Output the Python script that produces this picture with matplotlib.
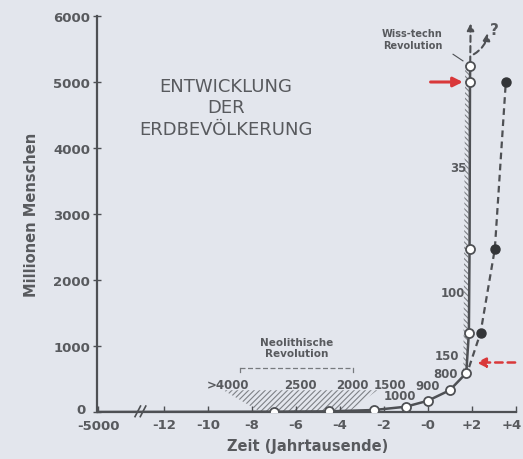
import matplotlib
matplotlib.use("Agg")
import matplotlib.pyplot as plt
import matplotlib.transforms as mtransforms
from matplotlib.patches import Polygon

# ---- data ----
x_ticks = [-15, -12, -10, -8, -6, -4, -2, 0, 2, 4]
x_ticklabels = ["-5000", "-12", "-10", "-8", "-6", "-4", "-2", "-0", "+2", "+4"]
y_ticks = [0, 1000, 2000, 3000, 4000, 5000, 6000]

# observed population (open circles, solid line)
obs_x = [-15, -7.0, -4.5, -2.45, -1.0, 0.0, 1.0, 1.75, 1.87, 1.9, 1.92, 1.93]
obs_y = [0, 5, 10, 30, 80, 170, 330, 590, 1200, 2470, 5000, 5250]

# projected (filled circles, dashed line)
proj_x = [1.88, 2.4, 3.05, 3.55]
proj_y = [680, 1200, 2470, 5000]

# doubling-time labels
dt_labels = [">4000", "2500", "2000", "1500", "1000", "900", "800", "150", "100", "35"]
dt_x = [-9.1, -5.8, -3.45, -1.7, -1.25, 0.0, 0.8, 0.85, 1.15, 1.38]
dt_y = [420, 420, 420, 420, 250, 400, 580, 860, 1810, 3700]

TXT = "#585a5e"
LINE = "#4e5054"
RED = "#d9383a"
BG = "#e3e6ed"

plt.rcParams["hatch.linewidth"] = 0.8

fig = plt.figure(figsize=(5.23, 4.60), dpi=100, facecolor=BG)
ax = fig.add_axes([97 / 523, (460 - 413) / 460, (519 - 97) / 523, (413 - 17) / 460])
ax.set_facecolor(BG)
ax.set_xlim(-15.05, 4.15)
ax.set_ylim(0, 6000)

for s in ["top", "right"]:
    ax.spines[s].set_visible(False)
for s in ["left", "bottom"]:
    ax.spines[s].set_color(LINE)
    ax.spines[s].set_linewidth(1.6)
ax.spines["bottom"].set_bounds(-15, 4.0)

ax.set_xticks(x_ticks)
ax.set_xticklabels(x_ticklabels)
ax.set_yticks(y_ticks)
ax.tick_params(axis="x", direction="in", length=4, width=1, colors=LINE, pad=4,
               labelsize=9.5, labelcolor=TXT)
ax.tick_params(axis="y", direction="inout", length=6, width=1, colors=LINE, pad=2,
               labelsize=9.5, labelcolor=TXT)
for lab in ax.get_xticklabels() + ax.get_yticklabels():
    lab.set_fontweight("bold")

# nudge labels so "0" sits above "-5000" and "+4" stays inside
ylab0 = ax.get_yticklabels()[0]
ylab0.set_transform(ylab0.get_transform() + mtransforms.ScaledTranslation(-4 / 100, 4 / 100, fig.dpi_scale_trans))
xlab0 = ax.get_xticklabels()[0]
xlab0.set_transform(xlab0.get_transform() + mtransforms.ScaledTranslation(0, -1 / 100, fig.dpi_scale_trans))
xlabl = ax.get_xticklabels()[-1]
xlabl.set_transform(xlabl.get_transform() + mtransforms.ScaledTranslation(-4 / 100, 0, fig.dpi_scale_trans))

ax.set_ylabel("Millionen Menschen", fontsize=10.5, color=TXT, fontweight="bold", labelpad=10)
ax.set_xlabel("Zeit (Jahrtausende)", fontsize=10.5, color=TXT, fontweight="bold", labelpad=5)

# axis break mark
for dx in (-0.12, 0.12):
    ax.plot([-13.2 + dx, -12.95 + dx], [-70, 90], color=LINE, lw=1.2, clip_on=False)

# hatched neolithic band
neo = Polygon([(-9.3, 330), (-2.3, 330), (-3.6, 0), (-7.6, 0)], closed=True,
              facecolor="none", edgecolor="#7e8186", hatch="//////", lw=0)
ax.add_patch(neo)
# hatched strip along the vertical part
strip = Polygon([(1.62, 650), (1.82, 620), (1.88, 5250), (1.7, 5250)], closed=True,
                facecolor="none", edgecolor="#7e8186", hatch="\\\\\\\\\\\\", lw=0)
ax.add_patch(strip)

# observed curve
ax.plot(obs_x, obs_y, color=LINE, lw=1.8, zorder=3)
ax.plot(obs_x[1:], obs_y[1:], "o", ms=6.5, mfc="white", mec=LINE, mew=1.3, zorder=4)
# arrows continuing at the top
ax.annotate("", xy=(1.95, 5930), xytext=(1.93, 5250),
            arrowprops=dict(arrowstyle="-|>", color=LINE, lw=1.5, ls=(0, (3, 2)),
                            mutation_scale=10), zorder=3)
ax.annotate("", xy=(2.72, 5780), xytext=(1.98, 5400),
            arrowprops=dict(arrowstyle="-|>", color=LINE, lw=1.5, ls=(0, (3, 2)),
                            connectionstyle="arc3,rad=0.3", mutation_scale=10), zorder=3)
ax.text(3.05, 5800, "?", fontsize=11, fontweight="bold", color=TXT, ha="center", va="center")

# projected curve
ax.plot(proj_x, proj_y, color=LINE, lw=1.6, ls=(0, (3, 2)), zorder=3)
ax.plot(proj_x[1:], proj_y[1:], "o", ms=6.5, mfc="#333538", mec="#333538", zorder=4)

# neolithic bracket
ax.plot([-8.55, -3.4], [660, 660], color="#777a7e", lw=0.9, ls=(0, (4, 2)))
ax.plot([-8.55, -8.55], [660, 600], color="#777a7e", lw=0.9)
ax.plot([-3.4, -3.4], [660, 600], color="#777a7e", lw=0.9)
ax.text(-5.95, 980, "Neolithische\nRevolution", fontsize=7.5, color=TXT, fontweight="bold",
        ha="center", va="center", linespacing=1.2)

# doubling times
for t, xx, yy in zip(dt_labels, dt_x, dt_y):
    ax.text(xx, yy, t, fontsize=8.5, color=TXT, fontweight="bold", ha="center", va="center")

# Wiss-techn Revolution
ax.text(-0.7, 5650, "Wiss-techn\nRevolution", fontsize=7, color=TXT, fontweight="bold",
        ha="center", va="center", linespacing=1.3)
ax.plot([1.15, 1.6], [5420, 5320], color=LINE, lw=0.8)

# red arrows
ax.annotate("", xy=(1.72, 5000), xytext=(0.0, 5000),
            arrowprops=dict(arrowstyle="-|>", color=RED, lw=2.2, mutation_scale=14))
ax.annotate("", xy=(2.08, 750), xytext=(4.1, 750),
            arrowprops=dict(arrowstyle="-|>", color=RED, lw=1.8, ls=(0, (3, 2)),
                            mutation_scale=14), annotation_clip=False)

# title
ax.text(-9.2, 4620, "ENTWICKLUNG\nDER\nERDBEVÖLKERUNG", fontsize=13, color=TXT,
        ha="center", va="center", linespacing=1.25)

fig.savefig("out.png", dpi=100, facecolor=BG)
